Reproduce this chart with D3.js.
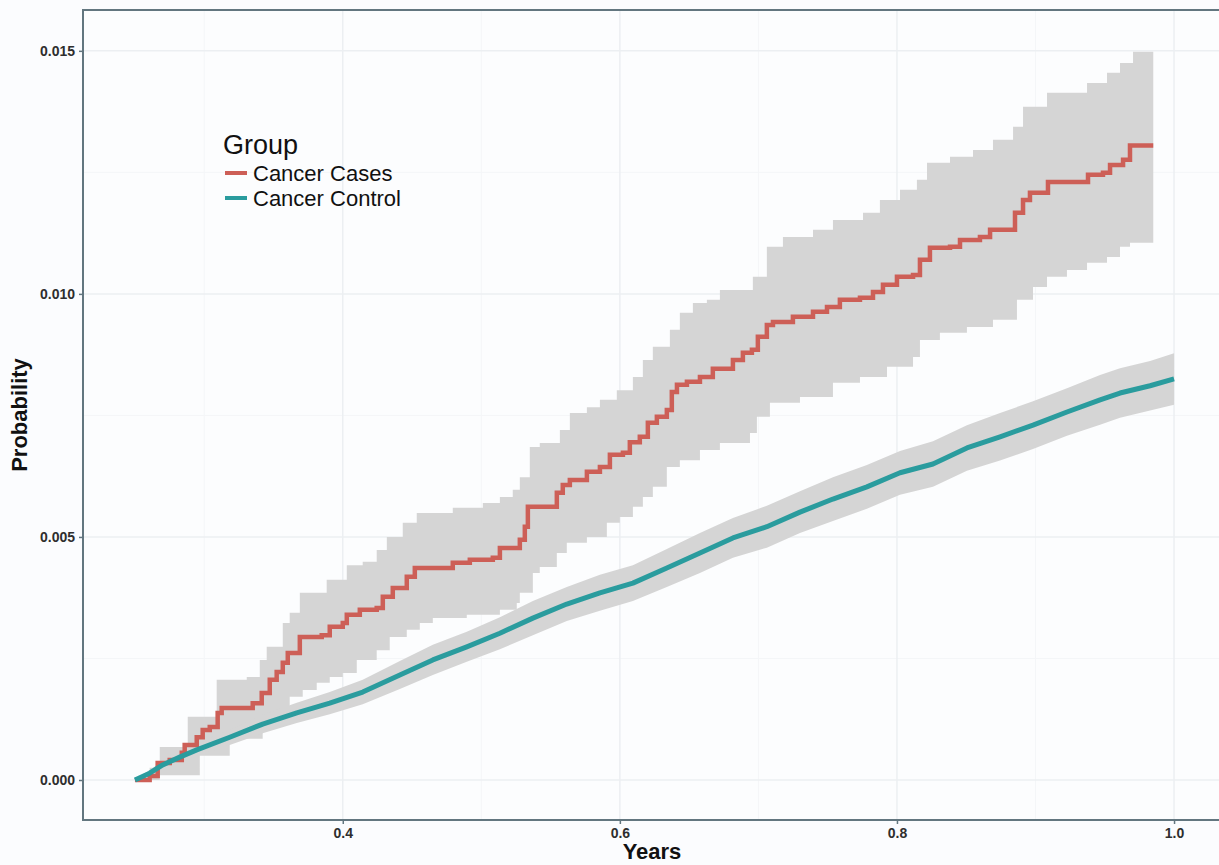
<!DOCTYPE html>
<html>
<head>
<meta charset="utf-8">
<script src="https://cdn.jsdelivr.net/npm/d3@7"></script>
<style>
  html, body { margin: 0; padding: 0; background: #fbfcfe; }
  svg { display: block; font-family: "Liberation Sans", Arial, sans-serif; }
</style>
</head>
<body>
<svg id="chart" width="1219" height="865"></svg>
<script>
// ---------------- data ----------------
const xTicks = [0.4, 0.6, 0.8, 1.0];
const xMinor = [0.3, 0.5, 0.7, 0.9];
const yTicks = [0.000, 0.005, 0.010, 0.015];
const yMinor = [0.0025, 0.0075, 0.0125];

const groups = ["Cancer Cases", "Cancer Control"];

// Cancer Cases: step function (cumulative probability)
const casesTime = [0.250, 0.2606, 0.2664, 0.2751, 0.2838, 0.2859, 0.2946, 0.2989, 0.3040, 0.3097,
  0.3126, 0.3350, 0.3415, 0.3473, 0.3523, 0.3567, 0.3603, 0.3690, 0.3848, 0.3906,
  0.4000, 0.4029, 0.4123, 0.4245, 0.4289, 0.4361, 0.4462, 0.4520, 0.4794, 0.4917,
  0.5083, 0.5134, 0.5278, 0.5314, 0.5336, 0.5545, 0.5588, 0.5639, 0.5762, 0.5856,
  0.5928, 0.6022, 0.6072, 0.6144, 0.6202, 0.6267, 0.6339, 0.6375, 0.6412, 0.6484,
  0.6578, 0.6671, 0.6816, 0.6888, 0.6953, 0.6996, 0.7061, 0.7105, 0.7249, 0.7394,
  0.7495, 0.7588, 0.7733, 0.7827, 0.7899, 0.8000, 0.8116, 0.8166, 0.8238, 0.8383,
  0.8455, 0.8599, 0.8672, 0.8852, 0.8910, 0.8960, 0.9090, 0.9379, 0.9487, 0.9538,
  0.9632, 0.9682, 0.985];
const casesProb = [0, 0.00008, 0.00035, 0.00041, 0.00056, 0.00072, 0.00088, 0.00103, 0.00109, 0.00138,
  0.00148, 0.00158, 0.00179, 0.00206, 0.00222, 0.00241, 0.00261, 0.00294, 0.00298, 0.00315,
  0.00323, 0.00340, 0.00350, 0.00354, 0.00377, 0.00395, 0.00418, 0.00436, 0.00447, 0.00453,
  0.00457, 0.00477, 0.00494, 0.00521, 0.00562, 0.00591, 0.00607, 0.00617, 0.00634, 0.00644,
  0.00669, 0.00673, 0.00695, 0.00706, 0.00735, 0.00747, 0.00761, 0.00798, 0.00813, 0.00819,
  0.00829, 0.00846, 0.00864, 0.00879, 0.00885, 0.00912, 0.00936, 0.00942, 0.00953, 0.00963,
  0.00973, 0.00988, 0.00992, 0.01004, 0.01019, 0.01035, 0.01039, 0.01070, 0.01095, 0.01097,
  0.01111, 0.01117, 0.01132, 0.01167, 0.01193, 0.01208, 0.01230, 0.01245, 0.01249, 0.01265,
  0.01276, 0.01305, 0.01305];

// Cancer Cases confidence band (upper and lower edges, each a step function)
const casesUpperTime = [0.250, 0.2606, 0.2679, 0.2881, 0.3090, 0.3307, 0.3401, 0.3451, 0.3567, 0.3617,
  0.3690, 0.3884, 0.4029, 0.4144, 0.4245, 0.4318, 0.4433, 0.4534, 0.4794, 0.5011,
  0.5134, 0.5227, 0.5278, 0.5350, 0.5422, 0.5567, 0.5639, 0.5762, 0.5856, 0.5978,
  0.6094, 0.6166, 0.6238, 0.6361, 0.6433, 0.6527, 0.6628, 0.6722, 0.6960, 0.7061,
  0.7177, 0.7394, 0.7538, 0.7755, 0.7877, 0.8022, 0.8144, 0.8217, 0.8383, 0.8549,
  0.8693, 0.8838, 0.8910, 0.9083, 0.9372, 0.9516, 0.9610, 0.9704, 0.985];
const casesUpper = [0.00004, 0.00025, 0.00068, 0.00130, 0.00206, 0.00212, 0.00247, 0.00274, 0.00323, 0.00344,
  0.00385, 0.00412, 0.00442, 0.00449, 0.00473, 0.00500, 0.00529, 0.00549, 0.00560, 0.00570,
  0.00582, 0.00597, 0.00623, 0.00685, 0.00693, 0.00720, 0.00755, 0.00767, 0.00782, 0.00802,
  0.00829, 0.00864, 0.00891, 0.00926, 0.00961, 0.00981, 0.00988, 0.01008, 0.01035, 0.01097,
  0.01117, 0.01132, 0.01152, 0.01167, 0.01193, 0.01214, 0.01235, 0.01270, 0.01282, 0.01296,
  0.01317, 0.01344, 0.01385, 0.01414, 0.01434, 0.01455, 0.01475, 0.01498, 0.01498];
const casesLowerTime = [0.250, 0.2679, 0.2968, 0.3184, 0.3422, 0.3523, 0.3617, 0.3711, 0.3812, 0.3906,
  0.4000, 0.4101, 0.4245, 0.4339, 0.4462, 0.4556, 0.4650, 0.4895, 0.5134, 0.5256,
  0.5278, 0.5372, 0.5422, 0.5545, 0.5617, 0.5762, 0.5906, 0.6000, 0.6094, 0.6166,
  0.6238, 0.6339, 0.6433, 0.6578, 0.6722, 0.6939, 0.6989, 0.7083, 0.7300, 0.7538,
  0.7733, 0.7928, 0.8116, 0.8166, 0.8310, 0.8505, 0.8693, 0.8866, 0.8982, 0.9083,
  0.9227, 0.9372, 0.9516, 0.9610, 0.9682, 0.985];
const casesLower = [0, 0.00010, 0.00050, 0.00085, 0.00123, 0.00144, 0.00171, 0.00185, 0.00200, 0.00212,
  0.00220, 0.00247, 0.00267, 0.00294, 0.00309, 0.00323, 0.00333, 0.00340, 0.00350, 0.00364,
  0.00385, 0.00426, 0.00438, 0.00467, 0.00488, 0.00500, 0.00529, 0.00541, 0.00562, 0.00582,
  0.00603, 0.00644, 0.00658, 0.00679, 0.00693, 0.00714, 0.00747, 0.00776, 0.00788, 0.00817,
  0.00829, 0.00850, 0.00870, 0.00905, 0.00920, 0.00932, 0.00947, 0.00988, 0.01014, 0.01035,
  0.01049, 0.01064, 0.01076, 0.01097, 0.01105, 0.01105];

// Cancer Control
const controlTime = [0.250, 0.2606, 0.2700, 0.2823, 0.2946, 0.3184, 0.3422, 0.3668, 0.3906, 0.4144,
  0.4412, 0.4650, 0.4895, 0.5134, 0.5372, 0.5617, 0.5856, 0.6094, 0.6339, 0.6578,
  0.6816, 0.7061, 0.7300, 0.7538, 0.7783, 0.8022, 0.8260, 0.8505, 0.8744, 0.8982,
  0.9227, 0.9466, 0.9610, 0.9827, 1.000];
const controlProb = [0, 0.00014, 0.00031, 0.00047, 0.00062, 0.00088, 0.00115, 0.00138, 0.00158, 0.00181,
  0.00216, 0.00247, 0.00274, 0.00302, 0.00333, 0.00362, 0.00385, 0.00405, 0.00436, 0.00467,
  0.00498, 0.00521, 0.00551, 0.00578, 0.00603, 0.00632, 0.00650, 0.00683, 0.00706, 0.00730,
  0.00757, 0.00782, 0.00796, 0.00811, 0.00825];
const controlUpper = [0.00002, 0.00020, 0.00039, 0.00057, 0.00074, 0.00104, 0.00134, 0.00159, 0.00181, 0.00206,
  0.00245, 0.00278, 0.00305, 0.00335, 0.00368, 0.00397, 0.00422, 0.00442, 0.00475, 0.00508,
  0.00539, 0.00564, 0.00594, 0.00623, 0.00648, 0.00677, 0.00697, 0.00730, 0.00755, 0.00779,
  0.00806, 0.00833, 0.00847, 0.00862, 0.00878];
const controlLower = [0, 0.00008, 0.00023, 0.00037, 0.00050, 0.00072, 0.00096, 0.00117, 0.00135, 0.00156,
  0.00187, 0.00216, 0.00243, 0.00269, 0.00298, 0.00327, 0.00348, 0.00368, 0.00397, 0.00426,
  0.00457, 0.00478, 0.00508, 0.00533, 0.00558, 0.00587, 0.00603, 0.00636, 0.00657, 0.00681,
  0.00708, 0.00731, 0.00745, 0.00760, 0.00772];

// ---------------- layout ----------------
const svg = d3.select("#chart");
const W = 1219, H = 865;
const panel = { left: 83, top: 10, right: 1226, bottom: 820 };
const colors = { cases: "#cd5f57", control: "#2a9c9e", band: "#d5d5d5",
  border: "#62767f", gridMajor: "#eceff2", gridMinor: "#f4f6f8", text: "#2e2e2e" };

const x = d3.scaleLinear().domain([0.2125, 1.0375]).range([panel.left, panel.right]);
const y = d3.scaleLinear().domain([-0.000823, 0.01584]).range([panel.bottom, panel.top]);

svg.append("rect").attr("width", W).attr("height", H).attr("fill", "#fbfcfe");
svg.append("rect")
  .attr("x", panel.left).attr("y", panel.top)
  .attr("width", panel.right - panel.left).attr("height", panel.bottom - panel.top)
  .attr("fill", "#fcfdfe");

const grid = svg.append("g");
grid.selectAll(".xmin").data(xMinor).join("line")
  .attr("x1", d => x(d)).attr("x2", d => x(d)).attr("y1", panel.top).attr("y2", panel.bottom)
  .attr("stroke", colors.gridMinor).attr("stroke-width", 1);
grid.selectAll(".ymin").data(yMinor).join("line")
  .attr("y1", d => y(d)).attr("y2", d => y(d)).attr("x1", panel.left).attr("x2", panel.right)
  .attr("stroke", colors.gridMinor).attr("stroke-width", 1);
grid.selectAll(".xmaj").data(xTicks).join("line")
  .attr("x1", d => x(d)).attr("x2", d => x(d)).attr("y1", panel.top).attr("y2", panel.bottom)
  .attr("stroke", colors.gridMajor).attr("stroke-width", 1.5);
grid.selectAll(".ymaj").data(yTicks).join("line")
  .attr("y1", d => y(d)).attr("y2", d => y(d)).attr("x1", panel.left).attr("x2", panel.right)
  .attr("stroke", colors.gridMajor).attr("stroke-width", 1.5);

// build step band for cases from separate upper/lower step functions
function stepValue(ts, vs, t) {
  let v = vs[0];
  for (let i = 0; i < ts.length; i++) { if (ts[i] <= t) v = vs[i]; }
  return v;
}
const bandTimes = Array.from(new Set(casesUpperTime.concat(casesLowerTime))).sort((a, b) => a - b);
const casesBand = bandTimes.map(t => ({
  t, lo: stepValue(casesLowerTime, casesLower, t), hi: stepValue(casesUpperTime, casesUpper, t)
}));
const casesLine = casesTime.map((t, i) => ({ t, p: casesProb[i] }));
const controlLine = controlTime.map((t, i) => ({ t, p: controlProb[i], lo: controlLower[i], hi: controlUpper[i] }));

const plot = svg.append("g");
plot.append("path").datum(casesBand)
  .attr("fill", colors.band)
  .attr("d", d3.area().curve(d3.curveStepAfter).x(d => x(d.t)).y0(d => y(d.lo)).y1(d => y(d.hi)));
plot.append("path").datum(controlLine)
  .attr("fill", colors.band)
  .attr("d", d3.area().x(d => x(d.t)).y0(d => y(d.lo)).y1(d => y(d.hi)));
plot.append("path").datum(casesLine)
  .attr("fill", "none").attr("stroke", colors.cases).attr("stroke-width", 4.5)
  .attr("stroke-linejoin", "miter")
  .attr("d", d3.line().curve(d3.curveStepAfter).x(d => x(d.t)).y(d => y(d.p)));
plot.append("path").datum(controlLine)
  .attr("fill", "none").attr("stroke", colors.control).attr("stroke-width", 5)
  .attr("stroke-linejoin", "round")
  .attr("d", d3.line().x(d => x(d.t)).y(d => y(d.p)));

// panel border
svg.append("rect")
  .attr("x", panel.left).attr("y", panel.top)
  .attr("width", panel.right - panel.left).attr("height", panel.bottom - panel.top)
  .attr("fill", "none").attr("stroke", colors.border).attr("stroke-width", 2);

// axes
const xAxis = svg.append("g").attr("transform", `translate(0,${panel.bottom})`)
  .call(d3.axisBottom(x).tickValues(xTicks).tickFormat(d3.format(".1f")).tickSize(4).tickPadding(4));
const yAxis = svg.append("g").attr("transform", `translate(${panel.left},0)`)
  .call(d3.axisLeft(y).tickValues(yTicks).tickFormat(d3.format(".3f")).tickSize(4).tickPadding(4));
[xAxis, yAxis].forEach(a => {
  a.select(".domain").remove();
  a.selectAll(".tick line").attr("stroke", colors.border).attr("stroke-width", 1.5);
  a.selectAll(".tick text").attr("fill", colors.text)
    .style("font-family", "'Liberation Sans', Arial, sans-serif")
    .style("font-size", "14px").style("font-weight", "bold");
});

// axis titles
svg.append("text").attr("x", 652).attr("y", 859)
  .attr("text-anchor", "middle").attr("fill", "#111")
  .style("font-size", "22px").style("font-weight", "bold").text("Years");
svg.append("text").attr("transform", "translate(27,415) rotate(-90)")
  .attr("text-anchor", "middle").attr("fill", "#111")
  .style("font-size", "22px").style("font-weight", "bold").text("Probability");

// legend
const legend = svg.append("g").attr("transform", "translate(223,0)");
legend.append("text").attr("x", 0).attr("y", 154).attr("fill", "#111")
  .style("font-size", "27px").text("Group");
const lineColors = [colors.cases, colors.control];
const items = legend.selectAll(".item").data(groups).join("g")
  .attr("transform", (d, i) => `translate(0,${174 + i * 25})`);
items.append("line").attr("x1", 2).attr("x2", 24).attr("y1", -1).attr("y2", -1)
  .attr("stroke", (d, i) => lineColors[i]).attr("stroke-width", 4);
items.append("text").attr("x", 30).attr("y", 7).attr("fill", "#111")
  .style("font-size", "22px").text(d => d);
</script>
</body>
</html>
